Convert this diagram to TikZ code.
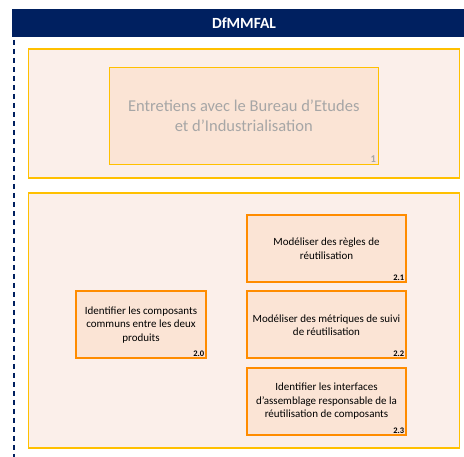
\documentclass[tikz,border=0pt]{standalone}
\usepackage{fontspec}
\setmainfont{Carlito}
\usepackage{tikz}
\usetikzlibrary{
  positioning,
}
\definecolor{navy}{RGB}{0, 32, 96}
\definecolor{yellowbd}{RGB}{255, 192, 0}
\definecolor{orangebd}{RGB}{255, 140, 0}
\definecolor{panelfill}{RGB}{251, 239, 234}
\definecolor{taskfill}{RGB}{251, 228, 213}
\definecolor{graytxt}{RGB}{166, 166, 166}
\tikzstyle{panel} = [
  rectangle,
  draw=yellowbd,
  line width=1.5pt,
  fill=panelfill,
  anchor=north west,
]
\tikzstyle{task} = [
  rectangle,
  draw=orangebd,
  line width=2pt,
  fill=taskfill,
  minimum width=159,
  minimum height=67,
  align=center,
  font=\fontsize{11}{13.5}\selectfont,
]
\tikzstyle{tasknum} = [
  anchor=south east,
  inner sep=2.5pt,
  font=\fontsize{8.5}{9}\selectfont\bfseries,
]

\begin{document}
\begin{tikzpicture}[x=1pt,y=1pt,node distance=7.5 and 39]
      \useasboundingbox (0,0) rectangle (464,-457);

      % frame and title bar
      \node[rectangle,fill=navy,minimum width=470,minimum height=28,anchor=north west,inner sep=0] (hdr) at (12,-9) {};
      \node[rectangle,draw=navy,line width=2pt,dash pattern=on 5pt off 4pt,minimum width=470,minimum height=470,anchor=north west,inner sep=0] (frame) at (13,-9) {};
      \node[text=white,font=\fontsize{15.5}{17}\selectfont\bfseries] (title) at (244,-23) {DfMMFAL};

      % phase 1
      \node[panel,minimum width=431,minimum height=129,inner sep=0] (pan1) at (27.5,-48.5) {};
      \node[rectangle,draw=yellowbd,line width=1pt,fill=taskfill,minimum width=269,minimum height=97,yshift=-2,align=center,text=graytxt,font=\fontsize{16.5}{20}\selectfont] (ent) at (pan1.center) {Entretiens avec le Bureau d’Etudes\\et d’Industrialisation};
      \node[tasknum,text=graytxt,font=\fontsize{10.5}{11}\selectfont\bfseries] (n1) at (ent.south east) {1};

      % phase 2
      \node[panel,minimum width=431,minimum height=255,inner sep=0] (pan2) at (27.5,-192.5) {};
      \node[task] (t21) at (326.5,-248.5) {Modéliser des règles de\\réutilisation};
      \node[task] (t22) [below=of t21] {Modéliser des métriques de suivi\\de réutilisation};
      \node[task] (t23) [below=of t22] {Identifier les interfaces\\d’assemblage responsable de la\\réutilisation de composants};
      \node[task,minimum width=130] (t20) [left=of t22] {Identifier les composants\\communs entre les deux\\produits};

      \node[tasknum] (n20) at (t20.south east) {2.0};
      \node[tasknum] (n21) at (t21.south east) {2.1};
      \node[tasknum] (n22) at (t22.south east) {2.2};
      \node[tasknum] (n23) at (t23.south east) {2.3};

    \end{tikzpicture}
\end{document}
